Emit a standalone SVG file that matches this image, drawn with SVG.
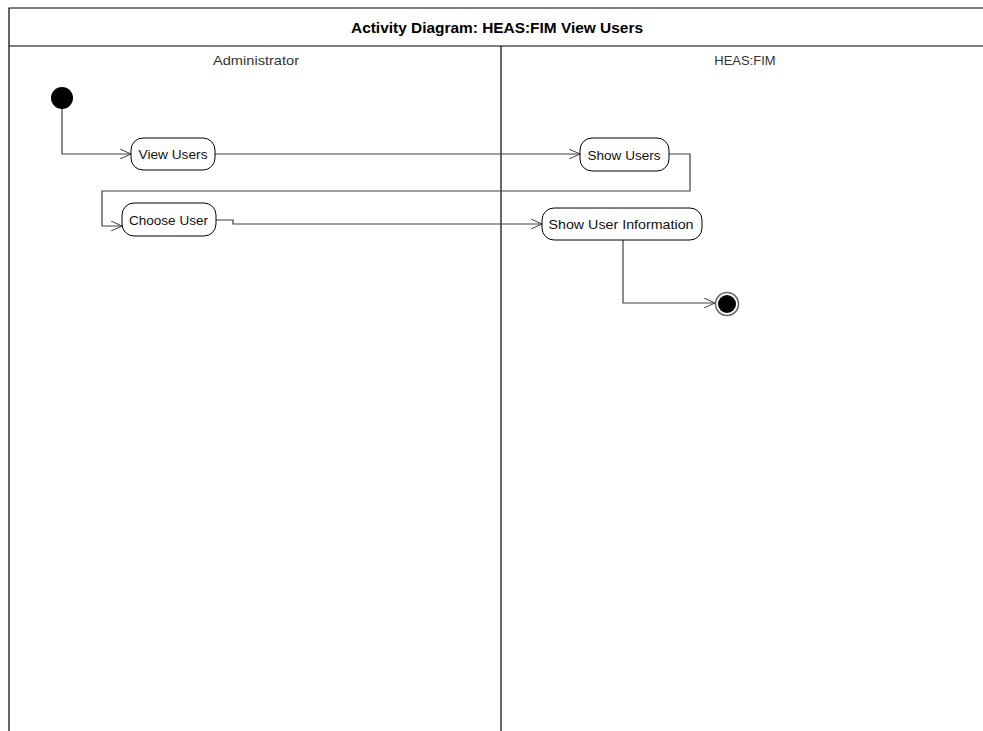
<svg xmlns="http://www.w3.org/2000/svg" width="983" height="731" viewBox="0 0 983 731">
<defs>
<marker id="arr" markerWidth="12" markerHeight="10" refX="11" refY="5" orient="auto" markerUnits="userSpaceOnUse">
<path d="M0,0 L11,5 L0,10" fill="none" stroke="#404040" stroke-width="1"/>
</marker>
</defs>
<style>
.frame{fill:none;stroke:#000;stroke-width:1.2}
.title{font-family:"Liberation Sans",Arial,sans-serif;font-size:15px;font-weight:bold;fill:#000}
.lane{font-family:"Liberation Sans",Arial,sans-serif;font-size:13px;fill:#333}
.act{fill:#fff;stroke:#000;stroke-width:1}
.lbl{font-family:"Liberation Sans",Arial,sans-serif;font-size:13.5px;fill:#111}
.conn{fill:none;stroke:#404040;stroke-width:1.2}
</style>
<rect width="983" height="731" fill="#fff"/>
<g id="frame">
<path class="frame" d="M9,731 V8 H983"/>
<path class="frame" d="M9,46 H983"/>
<path class="frame" d="M501,46 V731"/>
<text class="title" x="497" y="32.5" text-anchor="middle" textLength="292" lengthAdjust="spacingAndGlyphs">Activity Diagram: HEAS:FIM View Users</text>
<text class="lane" x="256" y="65" text-anchor="middle" textLength="86" lengthAdjust="spacingAndGlyphs">Administrator</text>
<text class="lane" x="745" y="65" text-anchor="middle">HEAS:FIM</text>
</g>
<g id="connectors">
<path class="conn" d="M62,108 V154 H131" marker-end="url(#arr)"/>
<path class="conn" d="M215,154 H580" marker-end="url(#arr)"/>
<path class="conn" d="M669,154 H690 V191 H102 V226 H122" marker-end="url(#arr)"/>
<path class="conn" d="M216,220 H233 V224 H542" marker-end="url(#arr)"/>
<path class="conn" d="M623,240 V303 H715" marker-end="url(#arr)"/>
</g>
<g id="start">
<circle cx="62" cy="98" r="11" fill="#000"/>
</g>
<g id="view-users">
<rect class="act" x="131" y="138" width="84" height="32" rx="12"/>
<text class="lbl" x="173" y="159" text-anchor="middle" textLength="69" lengthAdjust="spacingAndGlyphs">View Users</text>
</g>
<g id="show-users">
<rect class="act" x="580" y="138" width="89" height="33" rx="12"/>
<text class="lbl" x="624" y="159.5" text-anchor="middle" textLength="73" lengthAdjust="spacingAndGlyphs">Show Users</text>
</g>
<g id="choose-user">
<rect class="act" x="122" y="203" width="94" height="33" rx="12"/>
<text class="lbl" x="168.5" y="224.5" text-anchor="middle" textLength="79" lengthAdjust="spacingAndGlyphs">Choose User</text>
</g>
<g id="show-user-information">
<rect class="act" x="542" y="208" width="160" height="32" rx="12"/>
<text class="lbl" x="621" y="229" text-anchor="middle" textLength="145" lengthAdjust="spacingAndGlyphs">Show User Information</text>
</g>
<g id="end">
<circle cx="727" cy="304" r="11.5" fill="#fff" stroke="#666" stroke-width="1.5"/>
<circle cx="727" cy="304" r="9" fill="#000"/>
</g>
</svg>
